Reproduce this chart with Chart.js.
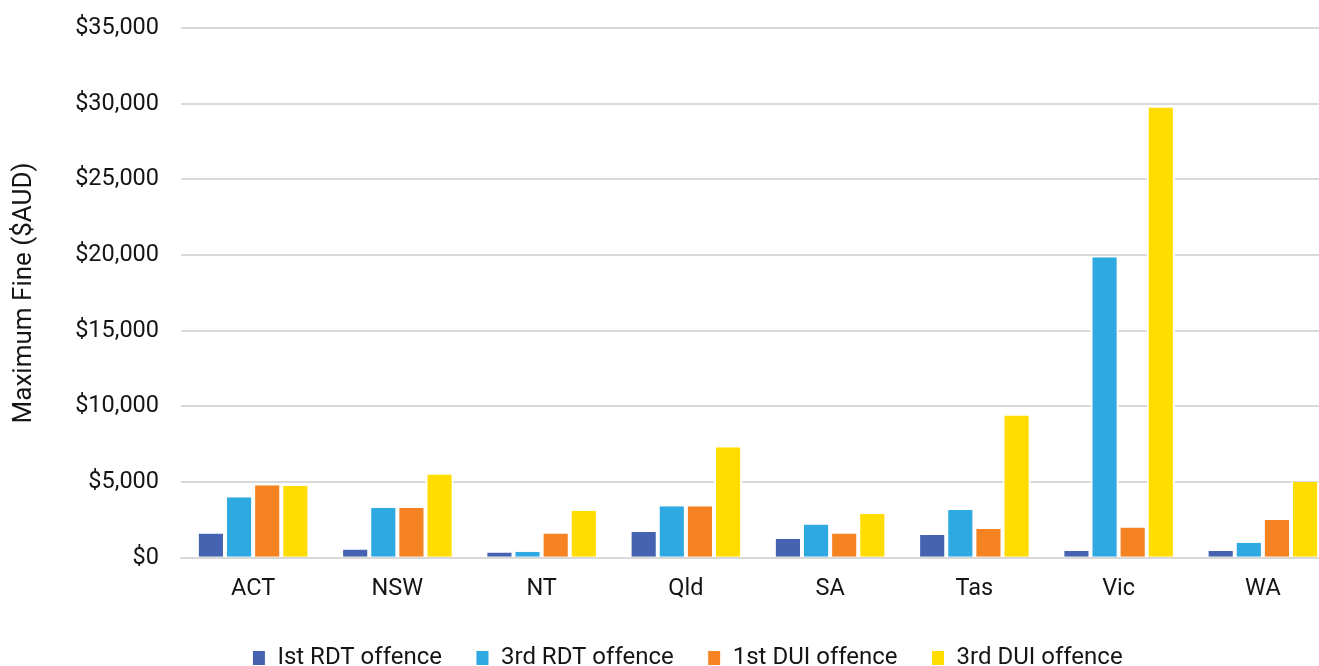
<!DOCTYPE html>
<html>
<head>
<meta charset="utf-8">
<script src="https://cdn.jsdelivr.net/npm/chart.js@4.4.1/dist/chart.umd.min.js"></script>
<style>
  html, body { margin: 0; padding: 0; background: #fff; overflow: hidden; }
  #wrap { width: 1336px; height: 666px; }
</style>
</head>
<body>
<div id="wrap"><canvas id="c" width="1336" height="666"></canvas></div>
<script>
const categories = ["ACT", "NSW", "NT", "Qld", "SA", "Tas", "Vic", "WA"];
const seriesNames = ["Ist RDT offence", "3rd RDT offence", "1st DUI offence", "3rd DUI offence"];
const firstRDT  = [1600, 550, 350, 1700, 1250, 1500, 450, 450];
const thirdRDT  = [4000, 3300, 400, 3400, 2200, 3150, 19850, 1000];
const firstDUI  = [4800, 3300, 1600, 3400, 1600, 1900, 2000, 2500];
const thirdDUI  = [4750, 5500, 3100, 7300, 2900, 9400, 29750, 5000];
const yTicks = [0, 5000, 10000, 15000, 20000, 25000, 30000, 35000];
const colors = ["#4563B0", "#2EA9E1", "#F58322", "#FFDD00"];

const seriesValues = [firstRDT, thirdRDT, firstDUI, thirdDUI];
const datasets = seriesNames.map((name, i) => ({
  label: name,
  data: seriesValues[i],
  backgroundColor: colors[i],
  borderColor: "#ffffff",
  borderWidth: { top: 0, left: 2, right: 2, bottom: 0 },
  borderSkipped: false,
  categoryPercentage: 0.78,
  barPercentage: 1.0
}));

const TXT = "#151515";
const tickFont = { family: "Roboto", size: 23.5 };
new Chart(document.getElementById("c"), {
  type: "bar",
  data: { labels: categories, datasets },
  options: {
    responsive: false,
    animation: false,
    layout: { padding: { top: 28, left: 40, right: 1, bottom: -14 } },
    plugins: {
      legend: {
        position: "bottom",
        labels: {
          font: { family: "Roboto", size: 24 },
          color: TXT,
          boxWidth: 13,
          boxHeight: 15,
          padding: 34
        }
      },
      tooltip: { enabled: false }
    },
    scales: {
      x: {
        grid: { display: false, drawTicks: false },
        border: { color: "#d9d9d9", width: 2 },
        ticks: { font: tickFont, color: TXT, padding: 17 },
        afterFit: (scale) => { scale.height = scale.height - 8; }
      },
      y: {
        min: 0, max: 35000,
        afterBuildTicks: (scale) => { scale.ticks = yTicks.map(v => ({ value: v })); },
        afterFit: (scale) => { scale.width = 141; scale.paddingTop = 0; scale.paddingBottom = 0; },
        grid: { color: "#d9d9d9", lineWidth: 2, drawTicks: false },
        border: { display: false },
        ticks: {
          font: tickFont, color: TXT, padding: 22,
          callback: (v) => "$" + Number(v).toLocaleString("en-US")
        },
        title: {
          display: true,
          text: "Maximum Fine ($AUD)",
          font: { family: "Roboto", size: 26 },
          color: TXT,
          padding: { top: -31.6, bottom: 0 }
        }
      }
    }
  }
});
</script>
</body>
</html>
